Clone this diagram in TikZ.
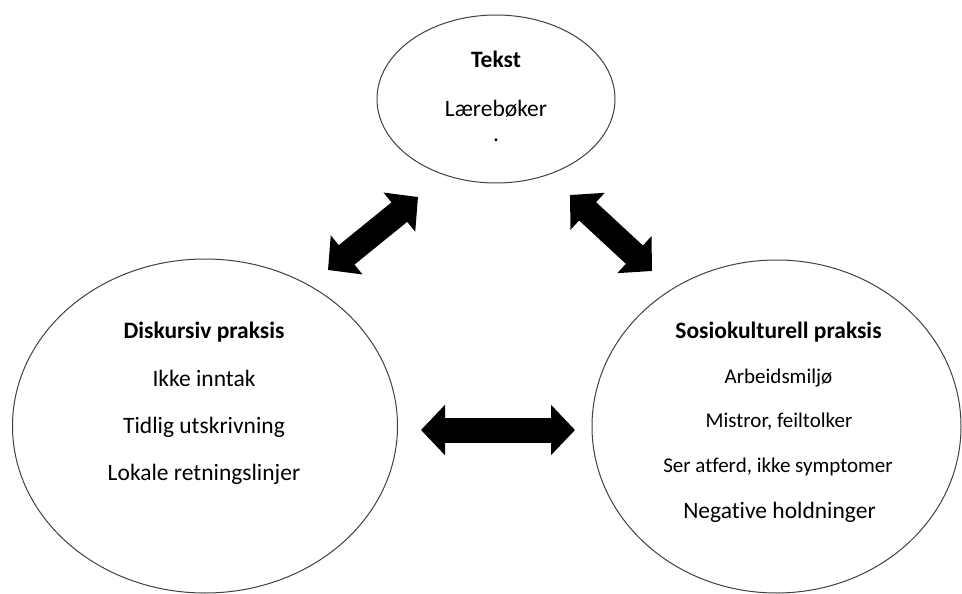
\documentclass[tikz,border=0pt]{standalone}
\usepackage{fontspec}
\setmainfont{Carlito}[Ligatures=NoCommon]
\usetikzlibrary{shapes.geometric,arrows.meta}

\begin{document}
\begin{tikzpicture}[x=1pt, y=-1pt,
  sirkel/.style={ellipse, draw=black!75, line width=1pt, inner sep=0pt},
  tittel/.style={anchor=base, font=\fontsize{23.5}{28}\selectfont\bfseries},
  punkt/.style={anchor=base, font=\fontsize{23.5}{28}\selectfont},
  smal/.style={anchor=base, font=\fontsize{21}{25}\selectfont},
  pil/.style={line width=25pt, {Triangle[length=24pt,width=49pt]}-{Triangle[length=24pt,width=49pt]}}]
\useasboundingbox (0,0) rectangle (962,594);
% ellipser
\node[sirkel, minimum width=238pt, minimum height=168pt] (tekst) at (496,99) {};
\node[sirkel, minimum width=385pt, minimum height=334pt] (disk) at (205,426) {};
\node[sirkel, minimum width=369pt, minimum height=333pt] (sosio) at (776.5,426.5) {};
% tekst
\node[tittel] (t0) at (496,68) {Tekst};
\node[punkt] (t1) at (496,117) {Lærebøker};
\node[punkt] (t2) at (496,141) {.};
% diskursiv praksis
\node[tittel] (d0) at (204,338) {Diskursiv praksis};
\node[punkt] (d1) at (204,386) {Ikke inntak};
\node[punkt] (d2) at (204,433) {Tidlig utskrivning};
\node[punkt] (d3) at (204,480) {Lokale retningslinjer};
% sosiokulturell praksis
\node[tittel] (s0) at (778.5,338) {Sosiokulturell praksis};
\node[smal] (s1) at (778.5,383) {Arbeidsmiljø};
\node[smal] (s2) at (779,427) {Mistror, feiltolker};
\node[smal] (s3) at (778,472) {Ser atferd, ikke symptomer};
\node[punkt] (s4) at (779.5,518) {Negative holdninger};
% piler
\coordinate (p1a) at (328,270);
\coordinate (p1b) at (418,197);
\coordinate (p2a) at (570,195);
\coordinate (p2b) at (652,271);
\coordinate (p3a) at (421,430);
\coordinate (p3b) at (575,430);
\draw[pil] (p1a) -- (p1b);
\draw[pil] (p2a) -- (p2b);
\draw[pil] (p3a) -- (p3b);

\end{tikzpicture}
\end{document}
